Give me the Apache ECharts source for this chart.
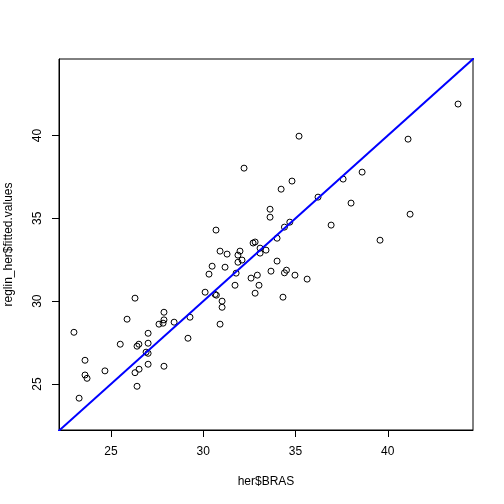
<!DOCTYPE html>
<html>
<head>
<meta charset="utf-8">
<script src="https://cdn.jsdelivr.net/npm/echarts@6/dist/echarts.min.js"></script>
<style>
  html, body { margin: 0; padding: 0; background: #fff; }
  #echarts { width: 504px; height: 504px; }
</style>
</head>
<body>
<div id="echarts"></div>
<script>
// 数据：x = her$BRAS, y = reglin_her$fitted.values
var bras = [26.30, 25.87, 22.99, 27.87, 27.87, 27.60, 27.82, 28.42, 29.28, 27.01,
    29.17, 25.50, 26.51, 26.41, 27.01, 26.90, 27.01, 23.59, 27.01, 27.87,
    24.67, 26.52, 26.30, 23.59, 23.70, 26.41, 23.27, 30.10, 30.64, 30.71,
    32.81, 34.32, 31.02, 31.02, 30.91, 31.72, 33.02, 32.59, 35.63, 32.93,
    34.97, 31.78, 30.31, 33.67, 34.51, 34.40, 31.18, 30.48, 34.00, 31.88,
    32.10, 31.88, 33.08, 31.29, 30.91, 31.99, 33.40, 33.08, 32.70, 32.81,
    34.00, 30.69, 34.40, 34.69, 33.62, 33.62, 36.22, 34.22, 34.81, 32.21,
    35.19, 43.81, 41.10, 38.61, 37.58, 38.01, 41.21, 36.93, 39.58];
var fitted = [30.18, 28.91, 28.12, 29.33, 28.87, 28.61, 28.67, 28.73, 29.03, 28.06,
    27.76, 27.40, 27.40, 27.28, 27.46, 26.92, 26.85, 26.43, 26.19, 26.07,
    25.79, 25.89, 25.68, 25.54, 25.34, 24.86, 24.14, 30.54, 30.41, 30.36,
    30.48, 30.24, 30.00, 29.63, 28.61, 30.96, 30.96, 31.39, 31.33, 31.57,
    31.57, 31.69, 31.63, 31.81, 31.87, 31.71, 32.05, 32.11, 32.42, 32.35,
    32.48, 32.78, 32.90, 32.84, 33.02, 33.02, 33.08, 33.20, 33.51, 33.57,
    33.80, 34.29, 34.47, 34.77, 35.07, 35.55, 36.28, 36.76, 37.25, 38.03,
    39.96, 41.90, 39.78, 37.79, 37.37, 35.92, 35.25, 34.59, 33.68];
var xTicks = [25, 30, 35, 40];
var yTicks = [25, 30, 35, 40];
var lineX = [20, 46];   // abline(0, 1)
var lineY = [20, 46];

var points = bras.map(function (v, i) { return [v, fitted[i]]; });
var linePts = lineX.map(function (v, i) { return [v, lineY[i]]; });

var font = 'Liberation Sans, Arial, sans-serif';

var option = {
    backgroundColor: '#fff',
    animation: false,
    grid: {
        left: 59, right: 31, top: 59, bottom: 74,
        outerBoundsMode: 'none',
        containLabel: false,
        show: true, borderColor: '#000', borderWidth: 1, backgroundColor: 'transparent'
    },
    xAxis: {
        type: 'value',
        min: 22.18, max: 44.62,
        name: 'her$BRAS',
        nameLocation: 'middle',
        nameGap: 46,
        nameTextStyle: { color: '#000', fontSize: 12, fontFamily: font },
        axisLine: { show: true, lineStyle: { color: '#000', width: 1 } },
        axisTick: { show: true, length: 7, lineStyle: { color: '#000' }, customValues: xTicks },
        axisLabel: { color: '#000', fontSize: 12, fontFamily: font, margin: 16, customValues: xTicks },
        splitLine: { show: false }
    },
    yAxis: {
        type: 'value',
        min: 22.22, max: 44.62,
        name: 'reglin_her$fitted.values',
        nameLocation: 'middle',
        nameGap: 44,
        nameTextStyle: { color: '#000', fontSize: 12, fontFamily: font },
        axisLine: { show: true, lineStyle: { color: '#000', width: 1 } },
        axisTick: { show: true, length: 7, lineStyle: { color: '#000' }, customValues: yTicks },
        axisLabel: { color: '#000', fontSize: 12, fontFamily: font, margin: 15, rotate: 90, customValues: yTicks },
        splitLine: { show: false }
    },
    series: [
        {
            type: 'scatter',
            data: points,
            symbol: 'circle',
            symbolSize: 6,
            itemStyle: { color: 'rgba(0,0,0,0)', borderColor: '#000', borderWidth: 1, opacity: 1 }
        },
        {
            type: 'line',
            data: linePts,
            showSymbol: false,
            clip: true,
            lineStyle: { color: '#0000ff', width: 2 }
        }
    ]
};

var myChart = echarts.init(document.getElementById('echarts'));
myChart.setOption(option);
</script>
</body>
</html>
